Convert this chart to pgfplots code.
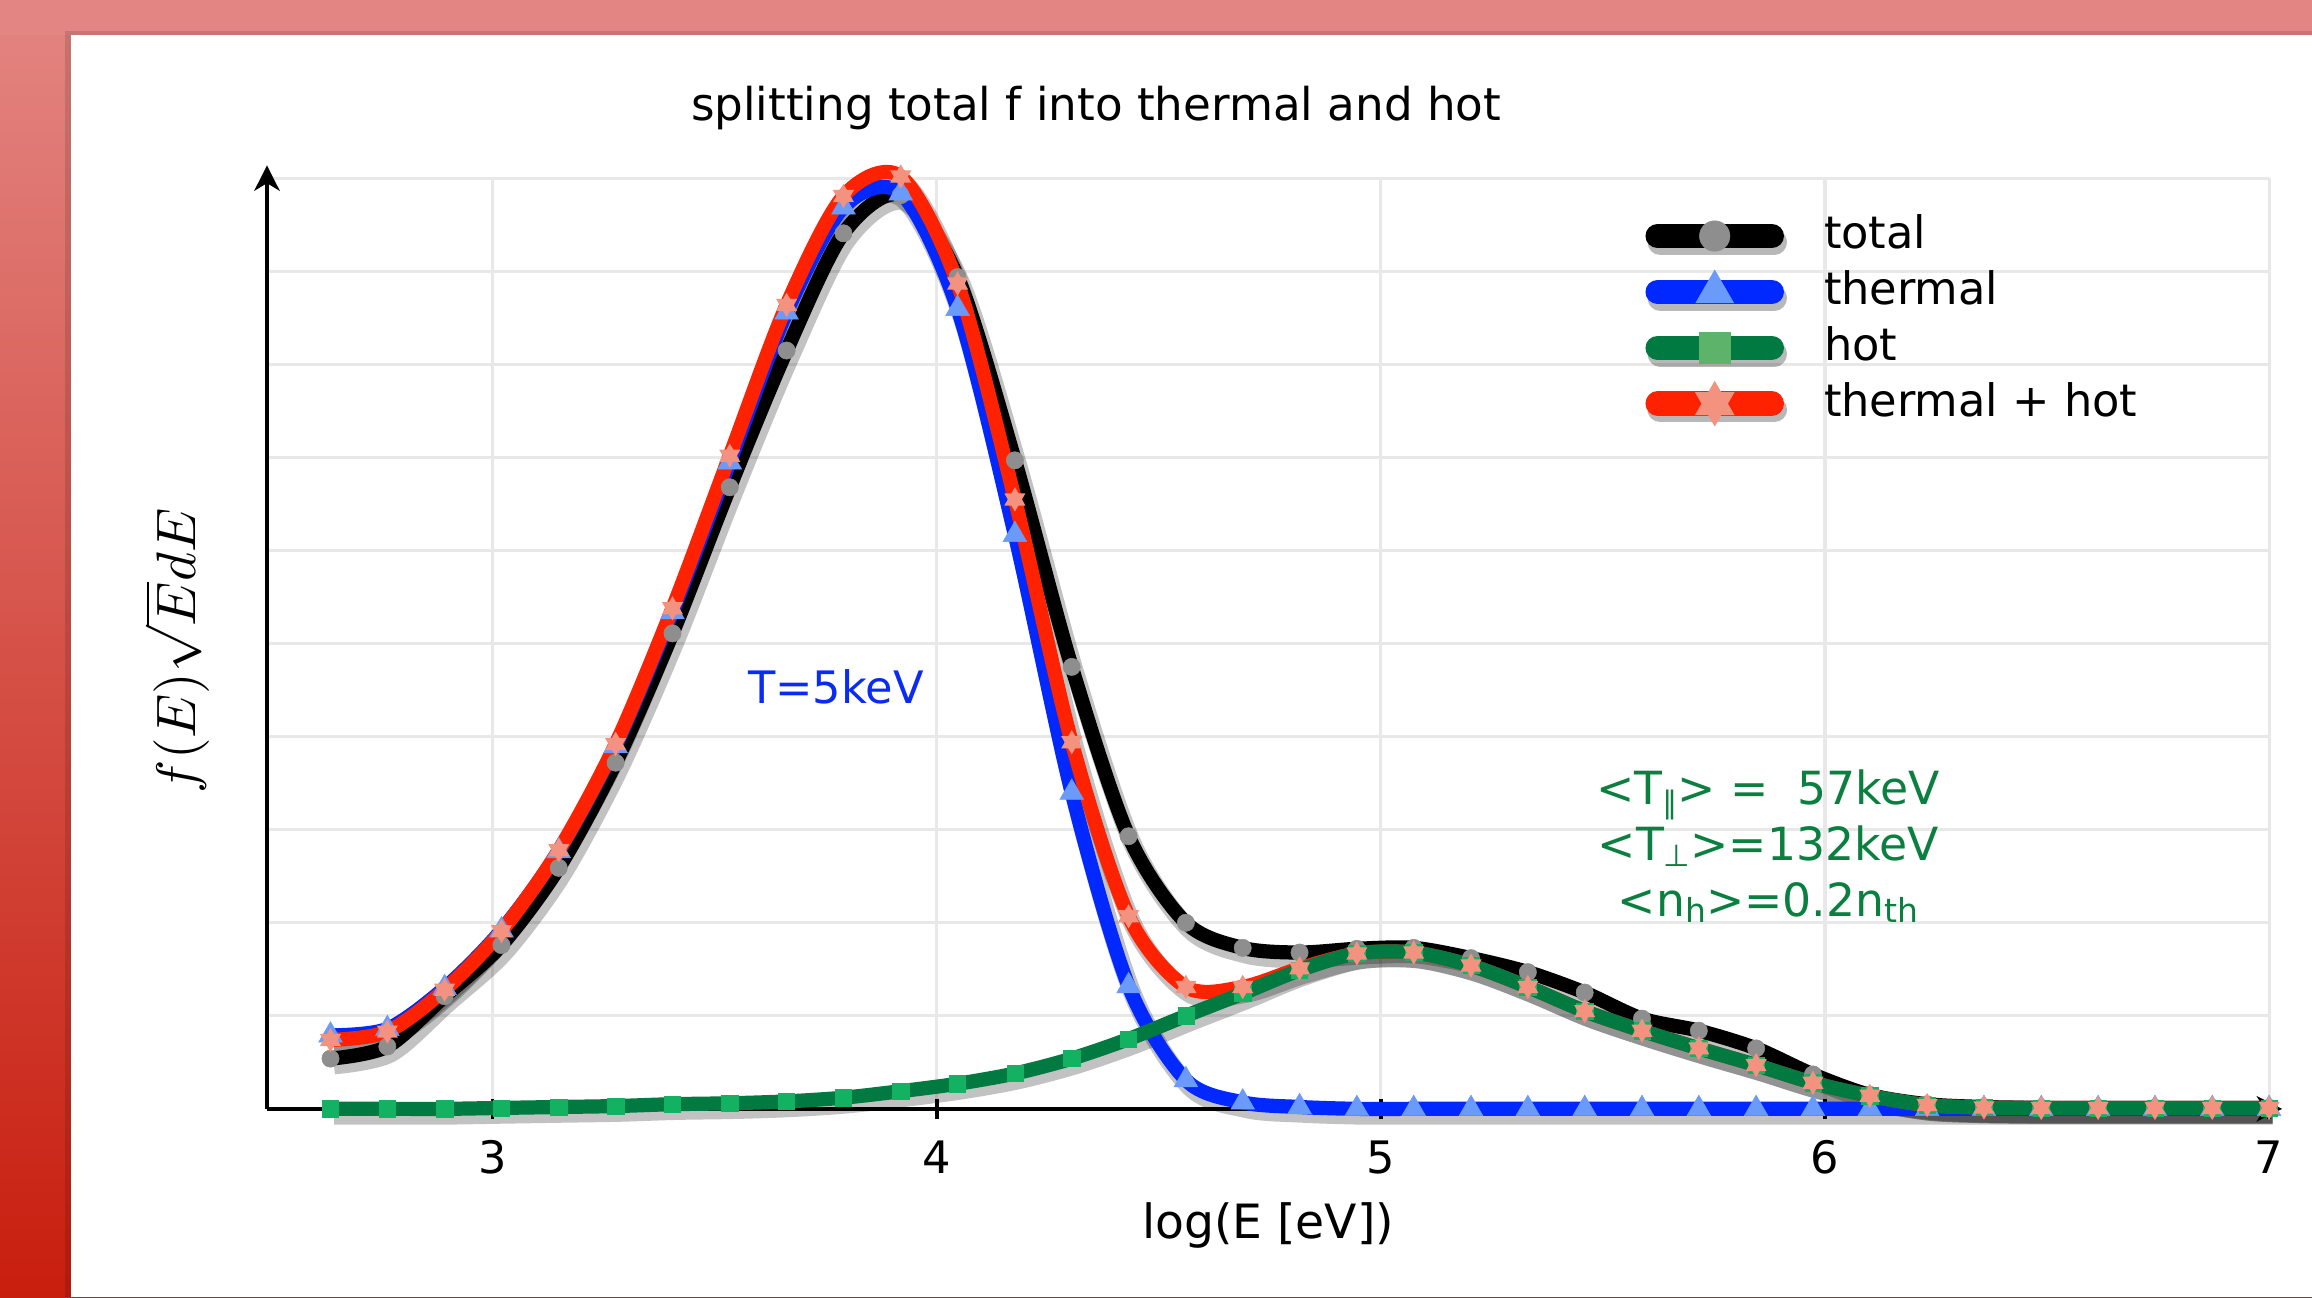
\documentclass[border=0pt]{standalone}
\usepackage{fontspec}
\setmainfont{DejaVu Sans}
\usepackage{pgfplots}
\usepackage{pgfplotstable}
\pgfplotsset{compat=1.18}
\usetikzlibrary{arrows.meta}

\definecolor{totmark}{HTML}{8E8E8E}
\definecolor{thline}{HTML}{0028FF}
\definecolor{thmark}{HTML}{6A9BFA}
\definecolor{hotline}{HTML}{007A40}
\definecolor{hotmark}{HTML}{12B262}
\definecolor{hotleg}{HTML}{5DB36A}
\definecolor{sumline}{HTML}{FF2200}
\definecolor{summark}{HTML}{F2927F}
\definecolor{gridgray}{HTML}{E8E8E8}
\definecolor{txtgreen}{HTML}{0B7F3F}
\definecolor{txtblue}{HTML}{0A2AF5}
\definecolor{slidetop}{HTML}{E38582}
\definecolor{slidebot}{HTML}{C81E0E}

% filled six-pointed star
\pgfdeclareplotmark{sixstar}{%
  \pgfpathmoveto{\pgfpointpolar{90}{\pgfplotmarksize}}%
  \pgfpathlineto{\pgfpointpolar{210}{\pgfplotmarksize}}%
  \pgfpathlineto{\pgfpointpolar{330}{\pgfplotmarksize}}%
  \pgfpathclose
  \pgfpathmoveto{\pgfpointpolar{270}{\pgfplotmarksize}}%
  \pgfpathlineto{\pgfpointpolar{30}{\pgfplotmarksize}}%
  \pgfpathlineto{\pgfpointpolar{150}{\pgfplotmarksize}}%
  \pgfpathclose
  \pgfusepathqfill
}

% log10(E), total, thermal, hot, thermal+hot
\pgfplotstableread{
x      total thermal hot   sum
2.635  0.54  0.79    0.00  0.74
2.763  0.67  0.86    0.00  0.83
2.892  1.21  1.30    0.00  1.28
3.020  1.76  1.92    0.01  1.91
3.149  2.59  2.77    0.02  2.78
3.277  3.72  3.90    0.03  3.92
3.405  5.11  5.34    0.05  5.38
3.534  6.68  6.95    0.06  7.02
3.662  8.15  8.56    0.08  8.64
3.790  9.41  9.69    0.12  9.81
3.919  9.82  9.84    0.19  10.02
4.047  8.94  8.60    0.27  8.87
4.176  6.97  6.17    0.38  6.55
4.304  4.75  3.40    0.54  3.94
4.432  2.93  1.32    0.75  2.07
4.561  2.00  0.31    1.00  1.31
4.689  1.73  0.07    1.24  1.31
4.817  1.68  0.02    1.49  1.51
4.946  1.72  0.00    1.67  1.67
5.074  1.73  0.00    1.68  1.68
5.203  1.62  0.00    1.54  1.54
5.331  1.47  0.00    1.31  1.31
5.459  1.25  0.00    1.05  1.05
5.588  0.97  0.00    0.84  0.84
5.716  0.84  0.00    0.65  0.65
5.845  0.65  0.00    0.47  0.47
5.973  0.37  0.00    0.28  0.28
6.101  0.15  0.00    0.14  0.14
6.230  0.05  0.00    0.04  0.04
6.358  0.02  0.00    0.015 0.015
6.487  0.01  0.00    0.01  0.01
6.615  0.01  0.00    0.01  0.01
6.743  0.01  0.00    0.01  0.01
6.872  0.01  0.00    0.01  0.01
7.000  0.01  0.00    0.01  0.01
}\fdata

\begin{document}
\begin{tikzpicture}
\path[use as bounding box] (0,0) rectangle (16cm,8.976cm);
% slide frame
\shade[top color=slidetop, bottom color=slidebot] (0,0) rectangle (16cm,8.976cm);
\fill[slidetop] (0,8.734cm) rectangle (16cm,8.976cm);
\fill[black, opacity=0.12] (0.45cm,0) rectangle (16cm,8.76cm);
\fill[white] (0.491cm,0) rectangle (16cm,8.734cm);

\node[anchor=base, font=\fontsize{8.9}{10}\selectfont] at (7.585cm,8.139cm)
  {splitting total f into thermal and hot};

\begin{axis}[
  at={(1.8477cm,1.3024cm)}, anchor=south west,
  scale only axis, width=13.855cm, height=6.439cm,
  xmin=2.492, xmax=7, ymin=0, ymax=10,
  axis lines=left,
  axis line style={line width=0.7pt, -{Stealth[length=5pt,width=5pt,inset=1.5pt]}, shorten >=-0.09cm},
  xtick={3,4,5,6,7}, ytick={1,2,...,10}, yticklabels={},
  ytick style={draw=none},
  xtick style={black, line width=0.7pt},
  tick align=center, major tick length=4pt,
  grid=major, grid style={gridgray, line width=0.6pt},
  /pgf/number format/assume math mode=true,
  xticklabel style={font=\fontsize{8.8}{10}\selectfont, anchor=base, yshift=-0.374cm},
  xlabel={log(E [eV])},
  xlabel style={font=\fontsize{9.3}{10}\selectfont, at={(axis description cs:0.5,0)}, anchor=base, yshift=-0.898cm},
  ylabel={$f(E)\sqrt{E}dE$},
  ylabel style={font=\fontsize{10.6}{12}\selectfont, at={(axis description cs:0,0.5)}, anchor=center, yshift=0.623cm, xshift=-0.05cm},
  clip=false,
  legend image code/.code={
    \draw[black, opacity=0.28, line width=5pt, line cap=round, xshift=0.5pt, yshift=-1.2pt]
      (0.085cm,0cm) -- (0.875cm,0cm);
    \draw[mark repeat=2, mark phase=2, #1, line width=4.8pt, line cap=round]
      plot coordinates {(0.085cm,0cm) (0.48cm,0cm) (0.875cm,0cm)};
  },
  legend style={at={(rel axis cs:0.688,0.848)}, anchor=west, draw=none, fill=none,
    inner sep=0pt, row sep=2pt,
    font=\fontsize{8.8}{10}\selectfont,
    nodes={inner sep=0pt, text height=7pt, text depth=2pt},
    /tikz/column 2/.style={column sep=0pt},
    /tikz/column 1/.style={column sep=0.256cm}},
  legend cell align=left,
]

% drop shadows
\addplot[black, opacity=0.24, line width=3.6pt, smooth, xshift=0.7pt, yshift=-1.3pt, forget plot] table[y=total]{\fdata};
\addplot[black, opacity=0.24, line width=3.6pt, smooth, xshift=0.7pt, yshift=-1.3pt, forget plot] table[y=thermal]{\fdata};
\addplot[black, opacity=0.24, line width=3.6pt, smooth, xshift=0.7pt, yshift=-1.3pt, forget plot] table[y=sum]{\fdata};
\addplot[black, opacity=0.24, line width=3.6pt, smooth, xshift=0.7pt, yshift=-1.3pt, forget plot] table[y=hot]{\fdata};

% curves
\addplot[black, line width=2.8pt, smooth, mark=*, mark size=1.7pt,
  mark options={fill=totmark, draw=totmark, line width=0.1pt}, forget plot] table[y=total]{\fdata};
\addplot[thline, line width=2.8pt, smooth, mark=triangle*, mark size=2.7pt,
  mark options={fill=thmark, draw=thmark, line width=0.1pt}, forget plot] table[y=thermal]{\fdata};
\addplot[sumline, line width=2.8pt, smooth, forget plot] table[y=sum]{\fdata};
\addplot[hotline, line width=2.8pt, smooth, mark=square*, mark size=1.6pt,
  mark options={fill=hotmark, draw=hotmark, line width=0.1pt}, forget plot] table[y=hot]{\fdata};
\addplot[only marks, mark=sixstar, mark size=2.4pt,
  mark options={fill=summark}, forget plot] table[y=sum]{\fdata};

% legend
\addlegendimage{black, mark=*, mark size=3pt, mark options={fill=totmark, draw=totmark, line width=0.1pt}}
\addlegendentry{total}
\addlegendimage{thline, mark=triangle*, mark size=4.3pt, mark options={fill=thmark, draw=thmark, line width=0.1pt}}
\addlegendentry{thermal}
\addlegendimage{hotline, mark=square*, mark size=3pt, mark options={fill=hotleg, draw=hotleg, line width=0.1pt}}
\addlegendentry{hot}
\addlegendimage{sumline, mark=sixstar, mark size=4.5pt, mark options={fill=summark}}
\addlegendentry{thermal + hot}

\node[txtblue, font=\fontsize{8.8}{10}\selectfont] at (axis cs:3.773,4.535) {T=5keV};
\node[txtgreen, font=\fontsize{9}{11}\selectfont, align=center] at (axis cs:5.872,2.82)
  {<T\raisebox{-0.35ex}{\fontsize{6}{6}\selectfont ∥}> =\ \ 57keV\\
   <T\raisebox{-0.25ex}{\fontsize{6}{6}\selectfont ⊥}>=132keV\\
   <n\raisebox{-0.25ex}{\fontsize{6.5}{6}\selectfont h}>=0.2n\raisebox{-0.25ex}{\fontsize{6.5}{6}\selectfont th}};
\end{axis}
\end{tikzpicture}
\end{document}
